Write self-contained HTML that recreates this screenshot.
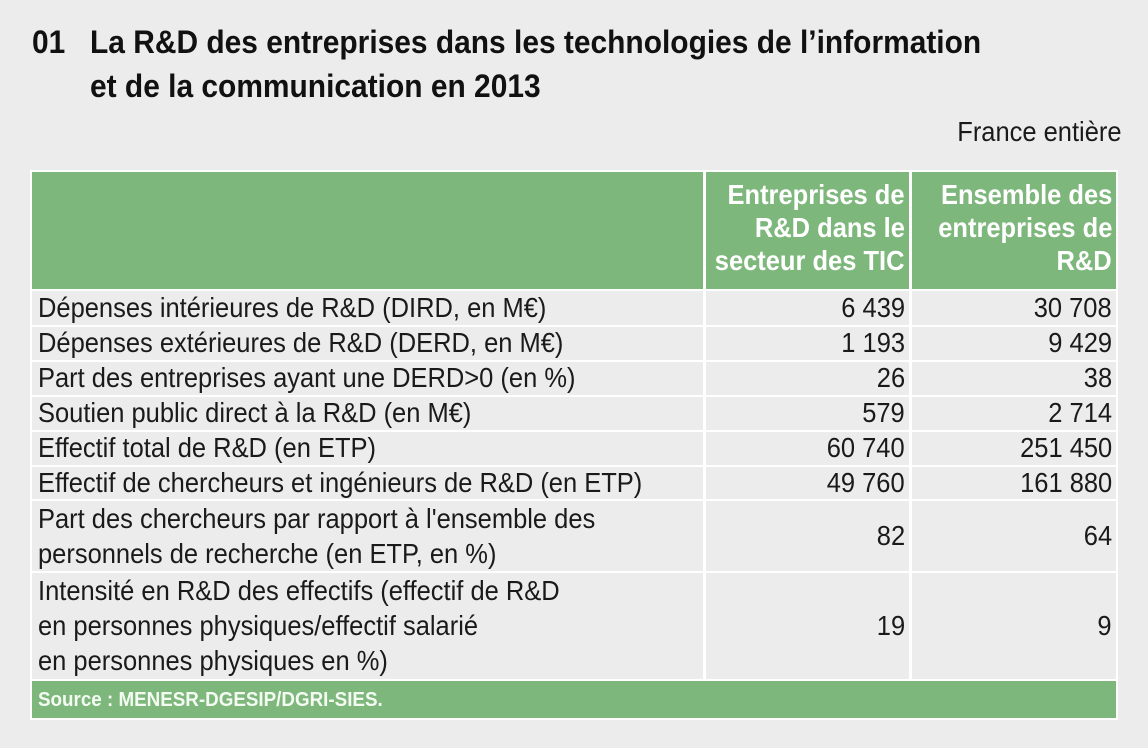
<!DOCTYPE html>
<html><head><meta charset="utf-8"><style>
body{margin:0;width:1148px;height:748px;background:#ececec;position:relative;overflow:hidden;font-family:"Liberation Sans",sans-serif;color:#1a1a1a}
.a{position:absolute;white-space:nowrap;transform-origin:left top}
.t{font-weight:bold;font-size:32px;color:#111;transform:scaleX(0.935)}
.c{position:absolute;box-sizing:border-box}
.g{background:#7db77b}
.w{background:#ececec}
.h{color:#fff;font-weight:bold;font-size:28px;line-height:33px;transform:scaleX(0.91)}
.b{font-size:28px;line-height:35px;transform:scaleX(0.91)}
.r{text-align:right;transform-origin:right top}
</style></head><body>
<div class="a t" style="left:32px;top:24px">01</div>
<div class="a t" style="left:90px;top:24px">La R&amp;D des entreprises dans les technologies de l’information</div>
<div class="a t" style="left:90px;top:68px">et de la communication en 2013</div>
<div class="a b r" style="right:26px;top:114px">France entière</div>

<div class="c" style="left:30px;top:170px;width:1088px;height:550px;background:#fff"></div>
<div class="c g" style="left:32px;top:172px;width:671px;height:117px"></div>
<div class="c g" style="left:706px;top:172px;width:203px;height:117px"></div>
<div class="c g" style="left:912px;top:172px;width:204px;height:117px"></div>
<div class="a h r" style="right:243px;top:178px">Entreprises de</div>
<div class="a h r" style="right:243px;top:211px">R&amp;D dans le</div>
<div class="a h r" style="right:243px;top:244px">secteur des TIC</div>
<div class="a h r" style="right:36px;top:178px">Ensemble des</div>
<div class="a h r" style="right:36px;top:211px">entreprises de</div>
<div class="a h r" style="right:36px;top:244px">R&amp;D</div>

<div class="c w" style="left:32px;top:291px;width:671px;height:34px"></div>
<div class="c w" style="left:706px;top:291px;width:203px;height:34px"></div>
<div class="c w" style="left:912px;top:291px;width:204px;height:34px"></div>
<div class="c w" style="left:32px;top:327px;width:671px;height:33px"></div>
<div class="c w" style="left:706px;top:327px;width:203px;height:33px"></div>
<div class="c w" style="left:912px;top:327px;width:204px;height:33px"></div>
<div class="c w" style="left:32px;top:362px;width:671px;height:33px"></div>
<div class="c w" style="left:706px;top:362px;width:203px;height:33px"></div>
<div class="c w" style="left:912px;top:362px;width:204px;height:33px"></div>
<div class="c w" style="left:32px;top:397px;width:671px;height:33px"></div>
<div class="c w" style="left:706px;top:397px;width:203px;height:33px"></div>
<div class="c w" style="left:912px;top:397px;width:204px;height:33px"></div>
<div class="c w" style="left:32px;top:432px;width:671px;height:33px"></div>
<div class="c w" style="left:706px;top:432px;width:203px;height:33px"></div>
<div class="c w" style="left:912px;top:432px;width:204px;height:33px"></div>
<div class="c w" style="left:32px;top:467px;width:671px;height:32px"></div>
<div class="c w" style="left:706px;top:467px;width:203px;height:32px"></div>
<div class="c w" style="left:912px;top:467px;width:204px;height:32px"></div>
<div class="c w" style="left:32px;top:501px;width:671px;height:70px"></div>
<div class="c w" style="left:706px;top:501px;width:203px;height:70px"></div>
<div class="c w" style="left:912px;top:501px;width:204px;height:70px"></div>
<div class="c w" style="left:32px;top:573px;width:671px;height:106px"></div>
<div class="c w" style="left:706px;top:573px;width:203px;height:106px"></div>
<div class="c w" style="left:912px;top:573px;width:204px;height:106px"></div>
<div class="c g" style="left:32px;top:681px;width:1084px;height:37px"></div>
<div class="a" style="left:38px;top:689px;font-size:20px;font-weight:bold;color:#f4fbf2;transform:scaleX(0.94)">Source : MENESR-DGESIP/DGRI-SIES.</div>

<div class="a b" style="left:38px;top:290px">Dépenses intérieures de R&amp;D (DIRD, en M€)</div>
<div class="a b" style="left:38px;top:325px">Dépenses extérieures de R&amp;D (DERD, en M€)</div>
<div class="a b" style="left:38px;top:360px">Part des entreprises ayant une DERD&gt;0 (en %)</div>
<div class="a b" style="left:38px;top:395px">Soutien public direct à la R&amp;D (en M€)</div>
<div class="a b" style="left:38px;top:430px">Effectif total de R&amp;D (en ETP)</div>
<div class="a b" style="left:38px;top:465px">Effectif de chercheurs et ingénieurs de R&amp;D (en ETP)</div>
<div class="a b" style="left:38px;top:501px">Part des chercheurs par rapport à l'ensemble des<br>personnels de recherche (en ETP, en %)</div>
<div class="a b" style="left:38px;top:573px">Intensité en R&amp;D des effectifs (effectif de R&amp;D<br>en personnes physiques/effectif salarié<br>en personnes physiques en %)</div>

<div class="a b r" style="right:243px;top:290px">6 439</div>
<div class="a b r" style="right:243px;top:325px">1 193</div>
<div class="a b r" style="right:243px;top:360px">26</div>
<div class="a b r" style="right:243px;top:395px">579</div>
<div class="a b r" style="right:243px;top:430px">60 740</div>
<div class="a b r" style="right:243px;top:465px">49 760</div>
<div class="a b r" style="right:243px;top:518px">82</div>
<div class="a b r" style="right:243px;top:608px">19</div>

<div class="a b r" style="right:36px;top:290px">30 708</div>
<div class="a b r" style="right:36px;top:325px">9 429</div>
<div class="a b r" style="right:36px;top:360px">38</div>
<div class="a b r" style="right:36px;top:395px">2 714</div>
<div class="a b r" style="right:36px;top:430px">251 450</div>
<div class="a b r" style="right:36px;top:465px">161 880</div>
<div class="a b r" style="right:36px;top:518px">64</div>
<div class="a b r" style="right:36px;top:608px">9</div>
</body></html>
